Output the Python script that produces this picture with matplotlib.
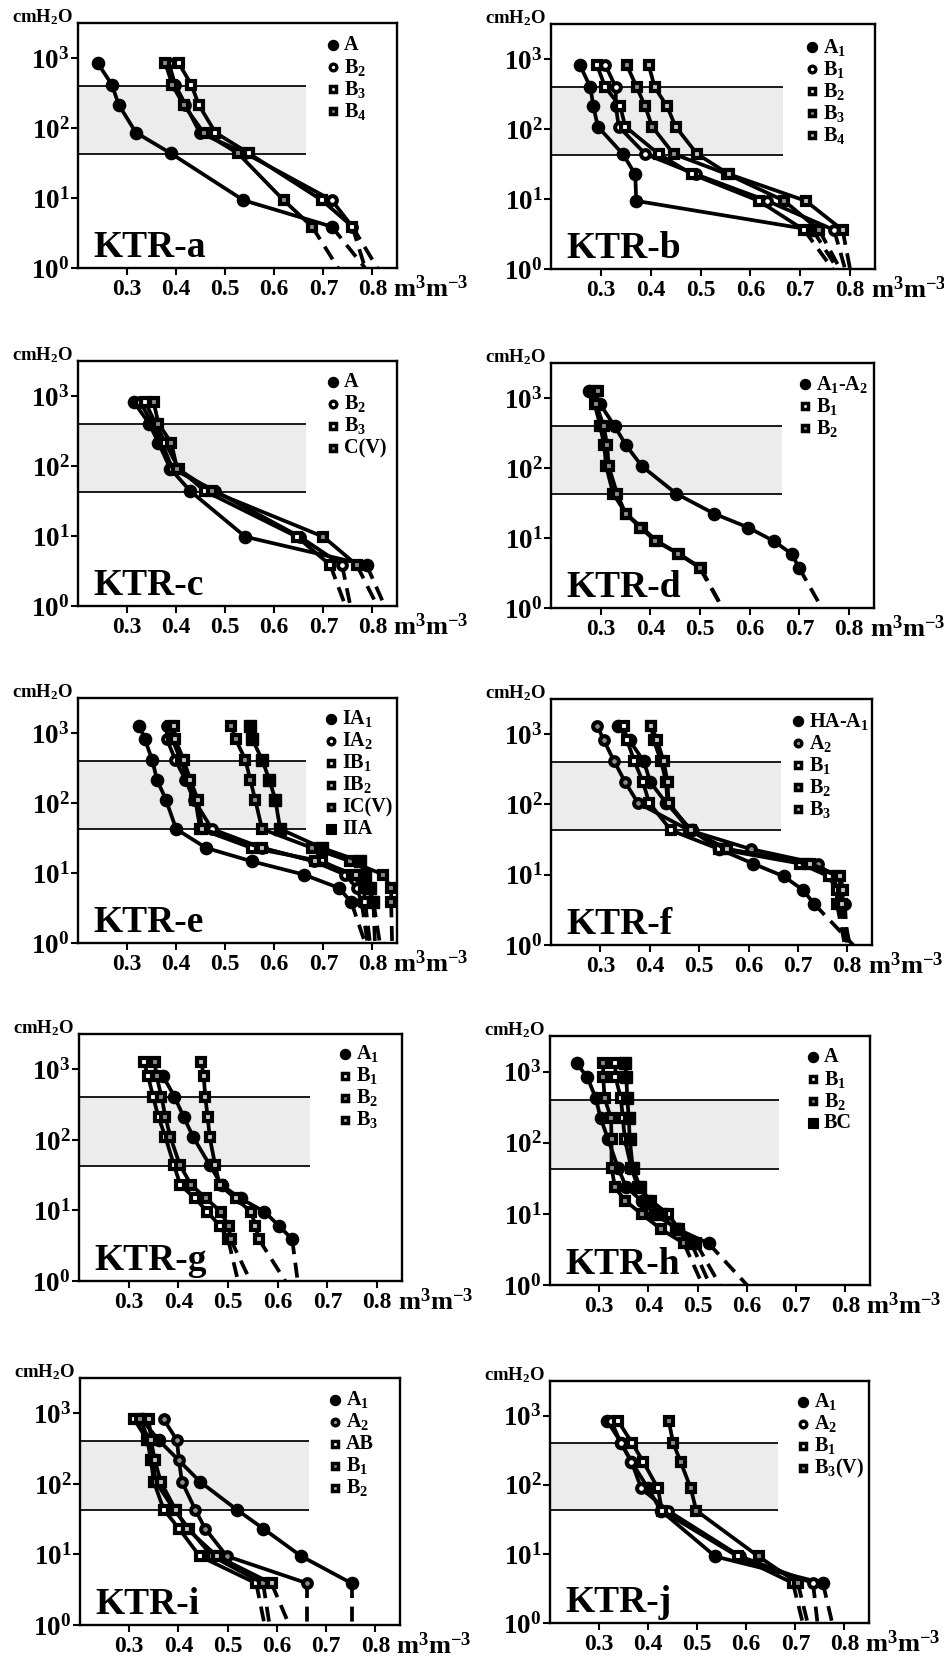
import matplotlib
matplotlib.use('Agg')
import matplotlib.pyplot as plt
from matplotlib.ticker import NullLocator

plt.rcParams.update({
    'font.family': ['Liberation Serif', 'DejaVu Serif'],
    'font.weight': 'bold',
    'mathtext.fontset': 'custom',
    'mathtext.rm': 'Liberation Serif:bold',
    'mathtext.bf': 'Liberation Serif:bold',
    'mathtext.it': 'Liberation Serif:bold:italic',
    'mathtext.default': 'rm',
})

# ---------------- data (suction in cmH2O, water content in m3 m-3) ----------------
band_low, band_high, band_right = 42.7, 400, 0.665

a_psi = [850, 415, 215, 86, 43.5, 9.3, 3.9]
a_A = [0.240, 0.269, 0.283, 0.318, 0.389, 0.537, 0.717]
a_B2 = [0.385, 0.398, 0.419, 0.448, 0.541, 0.717, 0.759]
a_B3 = [0.405, 0.431, 0.446, 0.480, 0.548, 0.697, 0.759]
a_B4 = [0.378, 0.392, 0.415, 0.456, 0.526, 0.619, 0.677]
a_sat = [0.785, 0.785, 0.81, 0.73]
a_labels = ['A', 'B$_2$', 'B$_3$', 'B$_4$']

b_psi = [820, 395, 210, 108, 44, 22.6, 9.4, 3.6]
b_A1 = [0.258, 0.279, 0.285, 0.294, 0.344, 0.369, 0.371, 0.725]
b_B1 = [0.309, 0.330, 0.330, 0.336, 0.389, 0.490, 0.634, 0.768]
b_B2 = [0.292, 0.309, 0.339, 0.349, 0.416, 0.483, 0.617, 0.708]
b_B3 = [0.352, 0.372, 0.389, 0.403, 0.446, 0.554, 0.668, 0.738]
b_B4 = [0.396, 0.408, 0.433, 0.450, 0.493, 0.557, 0.711, 0.785]
b_sat = [0.775, 0.79, 0.765, 0.78, 0.80]
b_labels = ['A$_1$', 'B$_1$', 'B$_2$', 'B$_3$', 'B$_4$']

c_psi = [820, 404, 214, 92, 43.7, 9.75, 3.85]
c_A = [0.314, 0.345, 0.364, 0.388, 0.429, 0.541, 0.788]
c_B2 = [0.327, 0.351, 0.371, 0.392, 0.480, 0.652, 0.738]
c_B3 = [0.337, 0.358, 0.378, 0.405, 0.459, 0.646, 0.714]
c_CV = [0.354, 0.364, 0.390, 0.402, 0.473, 0.700, 0.768]
c_sat = [0.825, 0.755, 0.745, 0.81]
c_labels = ['A', 'B$_2$', 'B$_3$', 'C(V)']

d_psi = [1245, 812, 398, 211, 106, 43, 22.3, 14.1, 9.06, 5.97, 3.77]
d_A1A2 = [0.277, 0.299, 0.328, 0.351, 0.383, 0.452, 0.528, 0.597, 0.648, 0.684, 0.699]
d_B1 = [0.288, 0.288, 0.299, 0.307, 0.311, 0.325, 0.351, 0.383, 0.413, 0.457, 0.501]
d_B2 = [0.295, 0.291, 0.306, 0.313, 0.316, 0.333, 0.350, 0.380, 0.410, 0.456, 0.499]
d_sat = [0.745, 0.545, 0.545]
d_labels = ['A$_1$-A$_2$', 'B$_1$', 'B$_2$']

e_psi = [1273, 820, 417, 214, 112, 42.5, 22.8, 14.7, 9.5, 6.1, 3.81]
e_IA1 = [0.325, 0.336, 0.351, 0.361, 0.379, 0.400, 0.461, 0.554, 0.660, 0.732, 0.757]
e_IA2 = [0.381, 0.381, 0.398, 0.419, 0.436, 0.473, 0.575, 0.680, 0.744, 0.768, 0.778]
e_IB1 = [0.390, 0.392, 0.409, 0.424, 0.439, 0.449, 0.554, 0.697, 0.758, 0.782, 0.785]
e_IB2 = [0.395, 0.398, 0.415, 0.429, 0.444, 0.453, 0.575, 0.683, 0.767, 0.791, 0.802]
e_ICV = [0.512, 0.521, 0.541, 0.551, 0.561, 0.575, 0.677, 0.755, 0.822, 0.838, 0.838]
e_IIA = [0.551, 0.555, 0.575, 0.590, 0.602, 0.612, 0.697, 0.775, 0.784, 0.794, 0.802]
e_sat = [0.785, 0.79, 0.795, 0.805, 0.84, 0.815]
e_labels = ['IA$_1$', 'IA$_2$', 'IB$_1$', 'IB$_2$', 'IC(V)', 'IIA']

f_psi = [1290, 816, 410, 209, 105, 42.8, 23.2, 14.4, 9.5, 6.1, 3.83]
f_HAA1 = [0.335, 0.359, 0.388, 0.401, 0.433, 0.485, 0.540, 0.609, 0.671, 0.710, 0.733]
f_A2 = [0.294, 0.307, 0.328, 0.350, 0.376, 0.480, 0.604, 0.740, 0.769, 0.782, 0.795]
f_B1 = [0.348, 0.354, 0.369, 0.386, 0.399, 0.443, 0.540, 0.705, 0.762, 0.779, 0.779]
f_B2 = [0.403, 0.408, 0.423, 0.433, 0.436, 0.480, 0.554, 0.718, 0.782, 0.789, 0.785]
f_B3 = [0.403, 0.415, 0.428, 0.436, 0.438, 0.483, 0.557, 0.725, 0.785, 0.792, 0.789]
f_sat = [0.812, 0.80, 0.795, 0.80, 0.805]
f_labels = ['HA-A$_1$', 'A$_2$', 'B$_1$', 'B$_2$', 'B$_3$']

g_psi = [1283, 804, 410, 209, 109, 44, 22.9, 14.8, 9.6, 6.1, 3.9]
g_psi_A1 = [804, 410, 209, 109, 44, 22.9, 14.8, 9.6, 6.1, 3.9]
g_A1 = [0.369, 0.392, 0.411, 0.430, 0.463, 0.487, 0.525, 0.573, 0.602, 0.629]
g_B1 = [0.330, 0.339, 0.349, 0.360, 0.374, 0.391, 0.404, 0.434, 0.458, 0.483, 0.500]
g_B2 = [0.352, 0.356, 0.366, 0.374, 0.384, 0.403, 0.426, 0.456, 0.485, 0.501, 0.505]
g_B3 = [0.446, 0.451, 0.454, 0.459, 0.463, 0.474, 0.483, 0.515, 0.546, 0.555, 0.562]
g_sat = [0.64, 0.52, 0.545, 0.615]
g_labels = ['A$_1$', 'B$_1$', 'B$_2$', 'B$_3$']

h_psi = [1306, 832, 421, 220, 112, 44.6, 23.6, 15.3, 9.96, 6.06, 3.85]
h_A = [0.254, 0.276, 0.293, 0.303, 0.318, 0.338, 0.355, 0.386, 0.412, 0.460, 0.522]
h_B1 = [0.333, 0.333, 0.344, 0.348, 0.352, 0.365, 0.379, 0.406, 0.439, 0.463, 0.497]
h_B2 = [0.308, 0.308, 0.311, 0.324, 0.325, 0.325, 0.332, 0.353, 0.386, 0.426, 0.472]
h_BC = [0.353, 0.355, 0.357, 0.360, 0.362, 0.368, 0.383, 0.398, 0.425, 0.455, 0.487]
h_sat = [0.60, 0.545, 0.51, 0.525]
h_labels = ['A', 'B$_1$', 'B$_2$', 'BC']

i_psi = [822, 415, 216, 107, 43.3, 23.3, 9.47, 3.89]
i_psi_A1 = [822, 415, 107, 43.3, 23.3, 9.47, 3.89]
i_A1 = [0.325, 0.360, 0.444, 0.518, 0.572, 0.649, 0.752]
i_A2 = [0.370, 0.397, 0.401, 0.407, 0.434, 0.454, 0.498, 0.662]
i_AB = [0.310, 0.337, 0.344, 0.350, 0.370, 0.401, 0.443, 0.558]
i_B1 = [0.322, 0.340, 0.347, 0.354, 0.391, 0.421, 0.468, 0.572]
i_B2 = [0.340, 0.344, 0.352, 0.364, 0.394, 0.417, 0.478, 0.589]
i_sat = [0.752, 0.662, 0.575, 0.585, 0.625]
i_labels = ['A$_1$', 'A$_2$', 'AB', 'B$_1$', 'B$_2$']

j_psi = [828, 404, 215, 88.5, 42.2, 9.16, 3.78]
j_A1 = [0.317, 0.345, 0.366, 0.400, 0.426, 0.537, 0.756]
j_A2 = [0.325, 0.344, 0.366, 0.386, 0.440, 0.588, 0.736]
j_B1 = [0.339, 0.367, 0.390, 0.420, 0.428, 0.583, 0.695]
j_B3V = [0.442, 0.451, 0.466, 0.487, 0.498, 0.625, 0.705]
j_sat = [0.775, 0.745, 0.715, 0.725]
j_labels = ['A$_1$', 'A$_2$', 'B$_1$', 'B$_3$(V)']

x_ticks = [0.3, 0.4, 0.5, 0.6, 0.7, 0.8]
x_ticklabels = ['0.3', '0.4', '0.5', '0.6', '0.7', '0.8']
y_ticks = [1, 10, 100, 1000]
y_ticklabels = [r'$10^{0}$', r'$10^{1}$', r'$10^{2}$', r'$10^{3}$']

# ---------------- styles ----------------
STY = {
    'fc': dict(marker='o', ms=8.8, mfc='k', mec='k', mew=1.0),
    'oc': dict(marker='o', ms=6.3, mfc='white', mec='k', mew=2.9),
    'gc': dict(marker='o', ms=6.3, mfc='#8c8c8c', mec='k', mew=2.9),
    'sw': dict(marker='s', ms=5.8, mfc='white', mec='k', mew=3.0),
    'sl': dict(marker='s', ms=5.8, mfc='#c4c4c4', mec='k', mew=3.0),
    'sg': dict(marker='s', ms=5.8, mfc='#8c8c8c', mec='k', mew=3.0),
    'sb': dict(marker='s', ms=8.5, mfc='k', mec='k', mew=1.0),
}
LEG = {
    'fc': dict(marker='o', ms=7.4, mfc='k', mec='k', mew=0.8),
    'oc': dict(marker='o', ms=4.8, mfc='white', mec='k', mew=2.4),
    'gc': dict(marker='o', ms=4.8, mfc='#8c8c8c', mec='k', mew=2.4),
    'sw': dict(marker='s', ms=4.2, mfc='white', mec='k', mew=2.5),
    'sl': dict(marker='s', ms=4.2, mfc='#c4c4c4', mec='k', mew=2.5),
    'sg': dict(marker='s', ms=4.2, mfc='#8c8c8c', mec='k', mew=2.5),
    'sb': dict(marker='s', ms=6.6, mfc='k', mec='k', mew=0.8),
}

W, H = 945, 1664
panels = [
    dict(name='KTR-a', box=(78, 23, 397, 268), leg=(64, 22),
         series=[(a_A, a_psi, 'fc'), (a_B2, a_psi, 'oc'), (a_B3, a_psi, 'sw'), (a_B4, a_psi, 'sg')],
         sat=a_sat, labels=a_labels),
    dict(name='KTR-b', box=(551, 24, 875, 269), leg=(63, 23),
         series=[(b_A1, b_psi, 'fc'), (b_B1, b_psi, 'oc'), (b_B2, b_psi, 'sw'), (b_B3, b_psi, 'sg'), (b_B4, b_psi, 'sl')],
         sat=b_sat, labels=b_labels),
    dict(name='KTR-c', box=(78, 361, 397, 606), leg=(64, 21),
         series=[(c_A, c_psi, 'fc'), (c_B2, c_psi, 'oc'), (c_B3, c_psi, 'sw'), (c_CV, c_psi, 'sg')],
         sat=c_sat, labels=c_labels),
    dict(name='KTR-d', box=(551, 363, 874, 608), leg=(69, 21),
         series=[(d_A1A2, d_psi, 'fc'), (d_B1, d_psi, 'sw'), (d_B2, d_psi, 'sg')],
         sat=d_sat, labels=d_labels),
    dict(name='KTR-e', box=(78, 698, 397, 943), leg=(66, 21),
         series=[(e_IA1, e_psi, 'fc'), (e_IA2, e_psi, 'oc'), (e_IB1, e_psi, 'sw'), (e_IB2, e_psi, 'sl'),
                 (e_ICV, e_psi, 'sg'), (e_IIA, e_psi, 'sb')],
         sat=e_sat, labels=e_labels),
    dict(name='KTR-f', box=(551, 699, 872, 945), leg=(74, 22),
         series=[(f_HAA1, f_psi, 'fc'), (f_A2, f_psi, 'gc'), (f_B1, f_psi, 'sw'), (f_B2, f_psi, 'sg'), (f_B3, f_psi, 'sl')],
         sat=f_sat, labels=f_labels),
    dict(name='KTR-g', box=(79, 1034, 402, 1281), leg=(57, 20),
         series=[(g_A1, g_psi_A1, 'fc'), (g_B1, g_psi, 'sw'), (g_B2, g_psi, 'sg'), (g_B3, g_psi, 'sl')],
         sat=g_sat, labels=g_labels),
    dict(name='KTR-h', box=(550, 1036, 870, 1285), leg=(57, 21),
         series=[(h_A, h_psi, 'fc'), (h_B1, h_psi, 'sw'), (h_B2, h_psi, 'sg'), (h_BC, h_psi, 'sb')],
         sat=h_sat, labels=h_labels),
    dict(name='KTR-i', box=(80, 1378, 400, 1625), leg=(65, 22),
         series=[(i_A1, i_psi_A1, 'fc'), (i_A2, i_psi, 'gc'), (i_AB, i_psi, 'sw'), (i_B1, i_psi, 'sg'), (i_B2, i_psi, 'sl')],
         sat=i_sat, labels=i_labels),
    dict(name='KTR-j', box=(550, 1381, 869, 1623), leg=(66, 21),
         series=[(j_A1, j_psi, 'fc'), (j_A2, j_psi, 'oc'), (j_B1, j_psi, 'sw'), (j_B3V, j_psi, 'sg')],
         sat=j_sat, labels=j_labels),
]

fig = plt.figure(figsize=(W / 100, H / 100), dpi=100)

for p in panels:
    l, t, r, b = p['box']
    wpx, hpx = r - l, b - t
    ax = fig.add_axes([l / W, 1 - b / H, wpx / W, hpx / H])
    ax.set_yscale('log')
    ax.set_xlim(0.2, 0.85)
    ax.set_ylim(1, 10 ** 3.5)

    # shaded band
    ax.fill_between([0.2, band_right], band_low, band_high, color='#ececec', lw=0, zorder=0)
    ax.hlines([band_low, band_high], 0.2, band_right, color='#1a1a1a', lw=1.4, zorder=1)

    # series
    for (xs, ps, st), xsat in zip(p['series'], p['sat']):
        ax.plot([xs[-1], xsat], [ps[-1], 1], color='k', lw=2.7, ls=(0, (4.0, 2.3)), zorder=2,
                dash_capstyle='butt')
        ax.plot(xs, ps, color='k', lw=2.7, zorder=3, **STY[st])

    # manual legend
    mk_off, top_off = p['leg']
    for k, ((xs, ps, st), lab) in enumerate(zip(p['series'], p['labels'])):
        ya = 1 - (top_off + 22 * k) / hpx
        xa = 1 - mk_off / wpx
        ax.plot([xa], [ya], transform=ax.transAxes, clip_on=False, zorder=5, ls='none', **LEG[st])
        ax.text(xa + 11 / wpx, ya, lab, transform=ax.transAxes, fontsize=14.5,
                ha='left', va='center', zorder=5)

    # panel name
    ax.text(15 / wpx, 11 / hpx, p['name'], transform=ax.transAxes, fontsize=27,
            ha='left', va='baseline', zorder=6)

    # ticks
    ax.set_xticks(x_ticks)
    ax.set_xticklabels(x_ticklabels)
    ax.set_yticks(y_ticks)
    ax.set_yticklabels(y_ticklabels)
    ax.yaxis.set_minor_locator(NullLocator())
    ax.xaxis.set_minor_locator(NullLocator())
    ax.tick_params(axis='x', direction='out', length=5, width=1.5, labelsize=17, pad=3)
    ax.tick_params(axis='y', direction='out', length=5, width=1.5, labelsize=19.5, pad=1)
    for s in ax.spines.values():
        s.set_linewidth(1.7)

    # unit labels
    fig.text((l - 5) / W, 1 - (t - 6) / H, 'cmH$_2$O', fontsize=13.5, ha='right', va='center')
    fig.text((r - 4) / W, 1 - (b + 21) / H, 'm$^3$m$^{-3}$', fontsize=19, ha='left', va='center')

fig.savefig('out.png', dpi=100)
